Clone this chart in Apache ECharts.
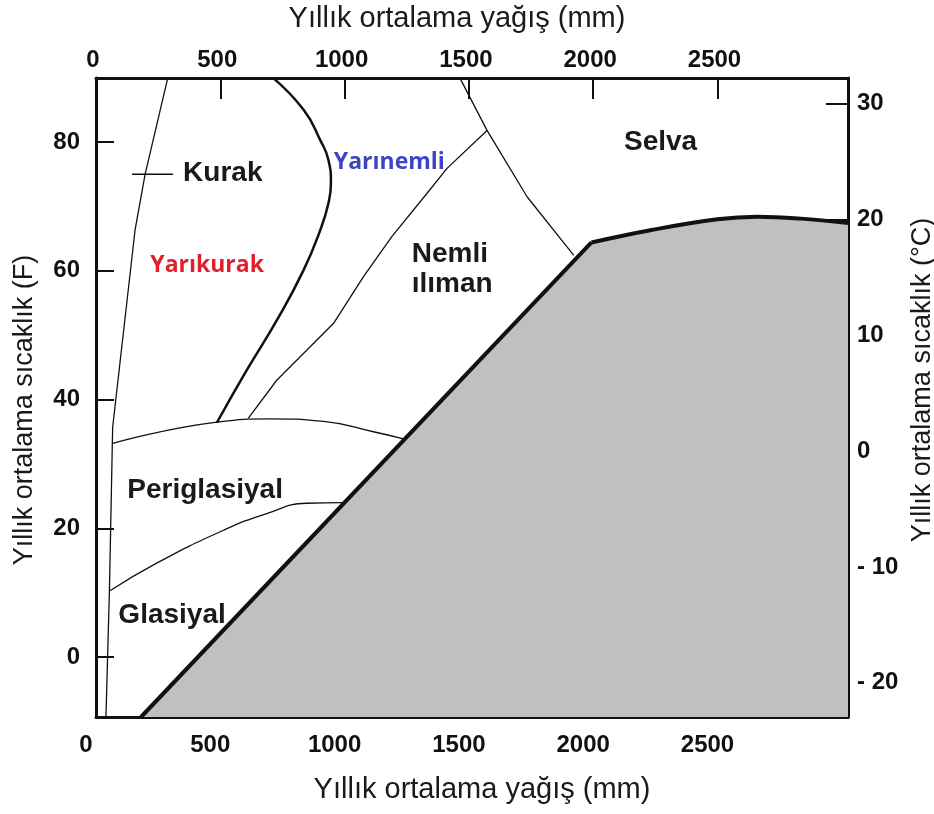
<!DOCTYPE html>
<html>
<head>
<meta charset="utf-8">
<script src="https://cdn.jsdelivr.net/npm/echarts@6/dist/echarts.min.js"></script>
<style>
html,body{margin:0;padding:0;background:#fff;overflow:hidden;}
#chart{width:934px;height:814px;}
</style>
</head>
<body>
<div id="chart"></div>
<script>
// ---- tick labels ----
const precipTicks = [0, 500, 1000, 1500, 2000, 2500];
const precipTickMarks = [500, 1000, 1500, 2000, 2500];
const fTicks = [0, 20, 40, 60, 80];
const cTicks = [-20, -10, 0, 10, 20, 30];
const cLabels = ['- 20', '- 10', '0', '10', '20', '30'];

// ---- boundary lines: [precip mm, temp F] ----
const aridLine = [[289, 90], [197, 74.9], [157, 66.3], [67, 35.7], [54, 10.4], [40, -9.3]];
const semiAridLine = [[711, 90], [835, 85.0], [902, 80.3], [935, 77.2], [945, 73.6], [935, 70.5], [902, 66.3], [835, 60.1], [727, 52.3], [607, 44.6], [486, 36.4]];
const humidLine = [[613, 37.1], [727, 43.0], [955, 51.8], [1076, 59.1], [1190, 65.3], [1331, 72.0], [1412, 75.9], [1573, 81.8]];
const selvaLine = [[1463, 90], [1573, 81.8], [1734, 71.5], [1922, 62.4]];
const periglacialTop = [[68, 33.2], [486, 36.5], [700, 37.0], [915, 36.6], [1116, 35.0], [1237, 33.9]];
const glacialTop = [[56, 10.3], [244, 14.6], [513, 19.7], [687, 22.3], [848, 23.9], [992, 24.0]];
const grayDiagonal = [[181, -9.3], [1993, 64.4]];
const grayCurve = [[1993, 64.4], [2230, 66.3], [2499, 68.0], [2660, 68.4], [2835, 68.1], [3025, 67.4]];
const kurakPointer = [[145, 75.0], [310, 75.0]];

// ---- region labels ----
const regionNames = ['Kurak', 'Yarınemli', 'Yarıkurak', 'Nemli\nılıman', 'Selva', 'Periglasiyal', 'Glasiyal'];
const regionX = [510, 1180, 447, 1270, 2271, 439, 306];
const regionY = [75.2, 76.8, 60.9, 60.2, 80.0, 25.9, 6.5];

const xTitle = 'Yıllık ortalama yağış (mm)';
const fTitle = 'Yıllık ortalama sıcaklık (F)';
const cTitle = 'Yıllık ortalama sıcaklık (°C)';

const F_MIN = -9.3, F_MAX = 89.94;
const C_MIN = (F_MIN - 32) / 1.8, C_MAX = (F_MAX - 32) / 1.8;

const labelStyles = {
  'Yarınemli': {color: '#3d45c0', fontFamily: 'Open Sans', fontWeight: 'bold', fontSize: 23},
  'Yarıkurak': {color: '#e0202f', fontFamily: 'Open Sans', fontWeight: 'bold', fontSize: 23},
  'Nemli\nılıman': {align: 'left', lineHeight: 30}
};

const chart = echarts.init(document.getElementById('chart'));
const tickFont = {fontFamily: 'Liberation Sans', fontWeight: 'bold', fontSize: 24, color: '#111'};
const titleFont = {fontFamily: 'Liberation Sans', fontWeight: 'normal', color: '#1a1a1a'};
const axLine = {show: true, onZero: false, lineStyle: {color: '#111', width: 3}};
const plain = function (v) { return String(v); };

function thin(data, extra) {
  return Object.assign({
    type: 'line', data: data, symbol: 'none', xAxisIndex: 0, yAxisIndex: 0,
    lineStyle: {color: '#111', width: 1.3}, silent: true, z: 3
  }, extra || {});
}

chart.setOption({
  animation: false,
  backgroundColor: '#fff',
  grid: {left: 96, top: 78, width: 752, height: 639, containLabel: false, outerBoundsMode: 'none'},
  xAxis: [
    {
      type: 'value', position: 'bottom', min: 0, max: 3025,
      axisLine: axLine, splitLine: {show: false},
      axisTick: {show: true, inside: true, length: 21, customValues: precipTickMarks, lineStyle: {color: '#111', width: 2}},
      axisLabel: Object.assign({margin: 16, customValues: precipTicks, formatter: plain, padding: [0, 20, 0, 0]}, tickFont),
      name: xTitle, nameLocation: 'middle', nameGap: 58,
      nameTextStyle: Object.assign({fontSize: 29, padding: [0, 0, 0, 20]}, titleFont)
    },
    {
      type: 'value', position: 'top', min: 0, max: 3025,
      axisLine: axLine, splitLine: {show: false},
      axisTick: {show: true, inside: true, length: 21, customValues: precipTickMarks, lineStyle: {color: '#111', width: 2}},
      axisLabel: Object.assign({margin: 6, customValues: precipTicks, formatter: plain, padding: [0, 6, 0, 0]}, tickFont),
      name: xTitle, nameLocation: 'middle', nameGap: 45,
      nameTextStyle: Object.assign({fontSize: 29, padding: [0, 30, 0, 0]}, titleFont)
    }
  ],
  yAxis: [
    {
      type: 'value', position: 'left', min: F_MIN, max: F_MAX,
      axisLine: axLine, splitLine: {show: false},
      axisTick: {show: true, inside: true, length: 18, customValues: fTicks, lineStyle: {color: '#111', width: 2}},
      axisLabel: Object.assign({margin: 16, customValues: fTicks, padding: [18, 0, 0, 0], formatter: plain}, tickFont),
      name: fTitle, nameLocation: 'middle', nameGap: 58, nameRotate: 90,
      nameTextStyle: Object.assign({fontSize: 27, padding: [0, 25, 0, 0]}, titleFont)
    },
    {
      type: 'value', position: 'right', min: C_MIN, max: C_MAX,
      axisLine: axLine, splitLine: {show: false},
      axisTick: {show: true, inside: true, length: 22, customValues: cTicks, lineStyle: {color: '#111', width: 2}},
      axisLabel: Object.assign({margin: 9, customValues: cTicks,
        formatter: function (v) { const i = cTicks.indexOf(Math.round(v)); return i >= 0 ? cLabels[i] : ''; }}, tickFont),
      name: cTitle, nameLocation: 'middle', nameGap: 54, nameRotate: 90,
      nameTextStyle: Object.assign({fontSize: 27, padding: [0, 0, 0, 35]}, titleFont)
    }
  ],
  series: [
    {
      // grey fill under the whole boundary (no stroke), one shape so there is no seam
      type: 'line', name: 'grayFill', data: grayDiagonal.concat(grayCurve.slice(1)), symbol: 'none',
      lineStyle: {width: 0, opacity: 0},
      areaStyle: {color: '#c0c0c0', opacity: 1, origin: 'start'},
      silent: true, z: 1
    },
    {
      type: 'line', name: 'grayDiagonal', data: grayDiagonal, symbol: 'none',
      lineStyle: {color: '#111', width: 4}, silent: true, z: 2
    },
    {
      type: 'line', name: 'grayCurve', data: grayCurve, symbol: 'none', smooth: 0.4,
      lineStyle: {color: '#111', width: 4}, silent: true, z: 2
    },
    thin(aridLine),
    thin(semiAridLine, {smooth: 0.5, lineStyle: {color: '#111', width: 2.5}}),
    thin(humidLine),
    thin(selvaLine),
    thin(periglacialTop, {smooth: 0.5}),
    thin(glacialTop, {smooth: 0.5}),
    thin(kurakPointer, {lineStyle: {color: '#111', width: 1.6}}),
    {
      type: 'scatter', symbolSize: 0, silent: true, z: 10,
      itemStyle: {opacity: 1},
      data: regionNames.map(function (n, i) {
        return {
          value: [regionX[i], regionY[i]], name: n,
          label: Object.assign({
            show: true, position: [0, 0], formatter: n, opacity: 1,
            align: 'center', verticalAlign: 'middle',
            fontFamily: 'Liberation Sans', fontWeight: 'bold', fontSize: 28, color: '#1a1a1a'
          }, labelStyles[n] || {})
        };
      })
    }
  ]
});
</script>
</body>
</html>
